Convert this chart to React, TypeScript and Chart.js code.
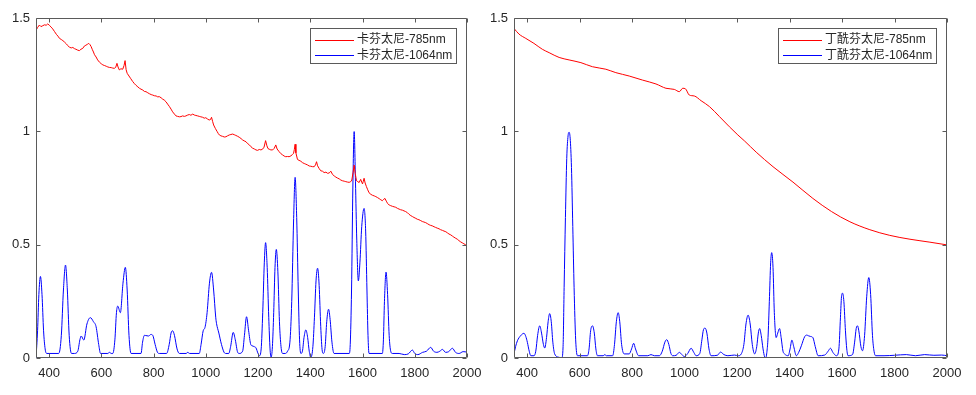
import React, { useEffect, useRef } from "react";
import { Chart, registerables } from "chart.js";

Chart.register(...registerables);

// ---------- tick values ----------
const xTicks = [400, 600, 800, 1000, 1200, 1400, 1600, 1800, 2000];
const yTicks = [0, 0.5, 1, 1.5];

// ---------- legend labels ----------
const leftLabels = ["卡芬太尼-785nm", "卡芬太尼-1064nm"];
const rightLabels = ["丁酰芬太尼-785nm", "丁酰芬太尼-1064nm"];

// ---------- left panel: 卡芬太尼 785nm ----------
const carf785X = [
  350, 356, 363, 369, 376, 383, 389, 395, 401, 408, 414, 421, 428, 434, 440, 447, 453, 459, 466, 472,
  478, 485, 491, 497, 503, 510, 516, 522, 529, 535, 541, 547, 552, 557, 561, 566, 570, 574, 580, 586,
  593, 600, 606, 613, 619, 625, 631, 638, 644, 650, 655, 660, 664, 669, 675, 682, 687, 691, 695, 699,
  706, 713, 720, 727, 733, 740, 746, 752, 759, 765, 771, 778, 784, 791, 797, 803, 810, 816, 822, 829,
  835, 841, 848, 854, 861, 867, 873, 880, 886, 892, 899, 905, 911, 918, 924, 931, 937, 943, 950, 956,
  962, 969, 975, 981, 988, 994, 1000, 1007, 1013, 1018, 1022, 1026, 1030, 1037, 1043, 1048, 1052, 1058, 1064, 1071,
  1077, 1083, 1090, 1096, 1103, 1109, 1115, 1122, 1128, 1135, 1141, 1147, 1154, 1160, 1167, 1173, 1179, 1186, 1192, 1198,
  1205, 1211, 1217, 1223, 1229, 1234, 1238, 1243, 1249, 1256, 1262, 1268, 1273, 1281, 1287, 1294, 1300, 1306, 1313, 1319,
  1326, 1332, 1336, 1339, 1342, 1345, 1351, 1357, 1364, 1370, 1377, 1383, 1389, 1396, 1402, 1409, 1415, 1420, 1424, 1428,
  1434, 1440, 1447, 1453, 1460, 1466, 1472, 1479, 1485, 1492, 1498, 1504, 1511, 1517, 1523, 1530, 1536, 1543, 1549, 1555,
  1559, 1564, 1568, 1572, 1577, 1582, 1587, 1593, 1597, 1600, 1603, 1606, 1610, 1615, 1620, 1625, 1632, 1638, 1645, 1651,
  1657, 1664, 1670, 1676, 1681, 1686, 1691, 1696, 1702, 1708, 1715, 1721, 1727, 1734, 1740, 1746, 1753, 1759, 1765, 1772,
  1778, 1785, 1791, 1797, 1804, 1810, 1816, 1823, 1829, 1835, 1842, 1848, 1855, 1861, 1867, 1874, 1880, 1886, 1893, 1899,
  1906, 1912, 1919, 1925, 1931, 1938, 1944, 1950, 1957, 1963, 1969, 1976, 1982, 1988, 1995, 2000,
];
const carf785Y = [
  1.445, 1.458, 1.469, 1.462, 1.466, 1.470, 1.468, 1.474, 1.468, 1.460, 1.452, 1.440, 1.428, 1.420, 1.410, 1.405, 1.400, 1.394, 1.386, 1.378,
  1.371, 1.368, 1.370, 1.365, 1.362, 1.358, 1.356, 1.362, 1.366, 1.376, 1.380, 1.384, 1.388, 1.382, 1.374, 1.360, 1.350, 1.338, 1.328, 1.315,
  1.305, 1.298, 1.293, 1.290, 1.287, 1.284, 1.282, 1.281, 1.279, 1.278, 1.282, 1.300, 1.284, 1.271, 1.276, 1.274, 1.290, 1.312, 1.272, 1.256,
  1.244, 1.232, 1.220, 1.210, 1.203, 1.196, 1.190, 1.186, 1.182, 1.176, 1.175, 1.170, 1.166, 1.162, 1.160, 1.157, 1.156, 1.152, 1.153, 1.148,
  1.142, 1.138, 1.130, 1.120, 1.109, 1.098, 1.086, 1.076, 1.068, 1.066, 1.064, 1.065, 1.068, 1.066, 1.068, 1.072, 1.074, 1.071, 1.076, 1.072,
  1.070, 1.068, 1.066, 1.064, 1.062, 1.058, 1.060, 1.054, 1.050, 1.052, 1.062, 1.044, 1.028, 1.012, 1.000, 0.990, 0.984, 0.980, 0.978, 0.975,
  0.976, 0.980, 0.984, 0.986, 0.988, 0.985, 0.982, 0.978, 0.974, 0.968, 0.962, 0.958, 0.954, 0.946, 0.940, 0.932, 0.926, 0.922, 0.918, 0.916,
  0.920, 0.918, 0.921, 0.930, 0.959, 0.936, 0.924, 0.921, 0.918, 0.918, 0.925, 0.940, 0.922, 0.910, 0.902, 0.896, 0.891, 0.888, 0.889, 0.888,
  0.892, 0.898, 0.903, 0.920, 0.943, 0.905, 0.876, 0.872, 0.868, 0.862, 0.858, 0.855, 0.852, 0.847, 0.846, 0.844, 0.844, 0.852, 0.866, 0.848,
  0.836, 0.826, 0.824, 0.818, 0.820, 0.815, 0.816, 0.824, 0.810, 0.803, 0.798, 0.794, 0.790, 0.785, 0.782, 0.780, 0.778, 0.776, 0.775, 0.778,
  0.785, 0.820, 0.851, 0.815, 0.782, 0.778, 0.774, 0.788, 0.776, 0.768, 0.780, 0.793, 0.772, 0.756, 0.742, 0.729, 0.722, 0.718, 0.715, 0.712,
  0.708, 0.703, 0.698, 0.694, 0.700, 0.704, 0.692, 0.682, 0.675, 0.672, 0.669, 0.667, 0.665, 0.660, 0.657, 0.654, 0.652, 0.649, 0.646, 0.641,
  0.634, 0.628, 0.624, 0.620, 0.616, 0.612, 0.610, 0.606, 0.602, 0.600, 0.597, 0.593, 0.588, 0.585, 0.583, 0.579, 0.576, 0.573, 0.570, 0.566,
  0.563, 0.560, 0.557, 0.552, 0.547, 0.543, 0.538, 0.533, 0.528, 0.524, 0.518, 0.512, 0.508, 0.504, 0.499, 0.496,
];

// ---------- left panel: 卡芬太尼 1064nm ----------
const carf1064X = [
  350, 356, 361, 367, 373, 379, 385, 391, 437, 447, 455, 463, 470, 477, 486, 497, 510, 518, 523, 533,
  545, 558, 570, 580, 590, 597, 625, 631, 638, 644, 652, 658, 663, 673, 683, 692, 699, 706, 714, 752,
  758, 765, 775, 781, 790, 797, 806, 815, 822, 850, 860, 867, 873, 880, 890, 899, 925, 931, 938, 975,
  982, 990, 997, 1005, 1014, 1022, 1030, 1038, 1041, 1050, 1060, 1070, 1077, 1088, 1095, 1105, 1113, 1122, 1128, 1141,
  1148, 1156, 1164, 1172, 1177, 1186, 1192, 1200, 1205, 1212, 1218, 1224, 1229, 1235, 1241, 1246, 1250, 1255, 1260, 1265,
  1270, 1276, 1282, 1288, 1294, 1305, 1313, 1322, 1329, 1336, 1342, 1348, 1354, 1359, 1364, 1370, 1376, 1383, 1390, 1396,
  1402, 1410, 1416, 1422, 1428, 1434, 1440, 1446, 1450, 1457, 1463, 1470, 1476, 1483, 1491, 1549, 1553, 1558, 1563, 1568,
  1573, 1578, 1584, 1590, 1597, 1606, 1612, 1617, 1621, 1625, 1676, 1680, 1684, 1690, 1696, 1702, 1708, 1714, 1740, 1760,
  1775, 1791, 1800, 1812, 1830, 1845, 1861, 1872, 1885, 1896, 1906, 1918, 1930, 1944, 1956, 1970, 1985, 2000,
];
const carf1064Y = [
  0.0, 0.12, 0.28, 0.36, 0.28, 0.12, 0.04, 0.02, 0.02, 0.10, 0.30, 0.41, 0.30, 0.10, 0.02, 0.02, 0.03, 0.08, 0.097, 0.079,
  0.15, 0.178, 0.16, 0.138, 0.06, 0.02, 0.02, 0.025, 0.02, 0.02, 0.08, 0.20, 0.229, 0.20, 0.33, 0.40, 0.30, 0.10, 0.02, 0.02,
  0.07, 0.10, 0.098, 0.097, 0.104, 0.10, 0.06, 0.025, 0.02, 0.02, 0.06, 0.11, 0.12, 0.10, 0.04, 0.02, 0.02, 0.025, 0.02, 0.02,
  0.06, 0.12, 0.135, 0.20, 0.33, 0.378, 0.30, 0.18, 0.153, 0.11, 0.06, 0.025, 0.02, 0.02, 0.05, 0.113, 0.08, 0.025, 0.02, 0.03,
  0.10, 0.182, 0.12, 0.06, 0.054, 0.05, 0.045, 0.02, 0.01, 0.04, 0.20, 0.42, 0.509, 0.40, 0.18, 0.04, 0.003, 0.05, 0.20, 0.40,
  0.479, 0.38, 0.16, 0.05, 0.02, 0.02, 0.03, 0.07, 0.25, 0.60, 0.797, 0.62, 0.30, 0.08, 0.02, 0.03, 0.09, 0.124, 0.09, 0.03,
  0.003, 0.05, 0.18, 0.34, 0.396, 0.32, 0.14, 0.03, 0.02, 0.05, 0.16, 0.215, 0.17, 0.07, 0.02, 0.02, 0.06, 0.30, 0.75, 0.999,
  0.78, 0.52, 0.34, 0.42, 0.58, 0.66, 0.56, 0.30, 0.10, 0.02, 0.02, 0.08, 0.25, 0.379, 0.28, 0.10, 0.03, 0.02, 0.02, 0.015,
  0.018, 0.035, 0.02, 0.015, 0.025, 0.03, 0.047, 0.03, 0.025, 0.03, 0.038, 0.025, 0.028, 0.043, 0.025, 0.02, 0.028, 0.026,
];

// ---------- right panel: 丁酰芬太尼 785nm ----------
const buty785X = [
  350, 369, 395, 426, 458, 484, 522, 560, 605, 649, 700, 738, 789, 840, 891, 929, 961, 980, 993, 1003,
  1018, 1037, 1063, 1095, 1133, 1171, 1203, 1229, 1273, 1337, 1413, 1489, 1560, 1630, 1706, 1782, 1859, 1935, 2000,
];
const buty785Y = [
  1.454, 1.429, 1.410, 1.388, 1.362, 1.347, 1.326, 1.315, 1.303, 1.285, 1.274, 1.259, 1.244, 1.226, 1.209, 1.190, 1.185, 1.175, 1.190, 1.188,
  1.160, 1.156, 1.135, 1.109, 1.065, 1.020, 0.984, 0.957, 0.908, 0.844, 0.776, 0.704, 0.646, 0.601, 0.566, 0.541, 0.524, 0.511, 0.499,
];

// ---------- right panel: 丁酰芬太尼 1064nm ----------
const buty1064X = [
  350, 356, 363, 375, 388, 395, 401, 408, 414, 426, 433, 440, 448, 455, 462, 467, 474, 480, 486, 492,
  498, 505, 522, 532, 537, 541, 546, 551, 556, 560, 564, 569, 574, 579, 585, 592, 630, 636, 642, 649,
  656, 662, 668, 690, 696, 702, 726, 733, 740, 747, 753, 760, 770, 789, 798, 806, 813, 825, 860, 872,
  885, 904, 915, 925, 932, 940, 948, 955, 968, 980, 990, 999, 1012, 1025, 1035, 1044, 1058, 1066, 1072, 1078,
  1085, 1093, 1101, 1125, 1137, 1150, 1165, 1190, 1205, 1216, 1226, 1234, 1242, 1250, 1258, 1267, 1275, 1281, 1286, 1292,
  1299, 1305, 1309, 1314, 1318, 1323, 1328, 1332, 1337, 1342, 1349, 1355, 1362, 1368, 1375, 1381, 1395, 1402, 1409, 1416,
  1426, 1435, 1445, 1458, 1466, 1472, 1480, 1489, 1498, 1509, 1534, 1547, 1556, 1565, 1579, 1588, 1594, 1598, 1602, 1607,
  1613, 1618, 1623, 1640, 1648, 1654, 1659, 1664, 1672, 1678, 1686, 1694, 1702, 1709, 1716, 1722, 1728, 1760, 1800, 1845,
  1880, 1915, 1950, 1980, 2000,
];
const buty1064Y = [
  0.018, 0.05, 0.076, 0.098, 0.109, 0.095, 0.069, 0.03, 0.01, 0.01, 0.03, 0.10, 0.142, 0.11, 0.06, 0.044, 0.09, 0.16, 0.196, 0.16,
  0.07, 0.018, 0.003, 0.0, 0.05, 0.31, 0.62, 0.88, 0.98, 0.996, 0.97, 0.84, 0.58, 0.31, 0.08, 0.01, 0.01, 0.04, 0.12, 0.142,
  0.11, 0.04, 0.01, 0.01, 0.015, 0.01, 0.01, 0.06, 0.16, 0.20, 0.16, 0.06, 0.018, 0.018, 0.04, 0.065, 0.04, 0.01, 0.01, 0.015,
  0.01, 0.01, 0.03, 0.07, 0.081, 0.06, 0.02, 0.01, 0.012, 0.025, 0.015, 0.006, 0.02, 0.043, 0.025, 0.01, 0.02, 0.08, 0.125, 0.132,
  0.11, 0.04, 0.01, 0.012, 0.026, 0.015, 0.01, 0.013, 0.01, 0.018, 0.06, 0.15, 0.189, 0.15, 0.06, 0.018, 0.05, 0.11, 0.13, 0.10,
  0.04, 0.005, 0.0, 0.03, 0.09, 0.25, 0.42, 0.465, 0.40, 0.20, 0.09, 0.11, 0.13, 0.09, 0.03, 0.018, 0.01, 0.04, 0.079, 0.05,
  0.01, 0.025, 0.054, 0.095, 0.101, 0.098, 0.095, 0.09, 0.05, 0.01, 0.013, 0.03, 0.043, 0.025, 0.01, 0.04, 0.18, 0.27, 0.286, 0.25,
  0.12, 0.04, 0.01, 0.015, 0.07, 0.13, 0.142, 0.12, 0.05, 0.032, 0.10, 0.27, 0.355, 0.28, 0.10, 0.03, 0.01, 0.01, 0.012, 0.015,
  0.01, 0.015, 0.012, 0.013, 0.01,
];

// ---------- styling ----------
const FONT = '"Liberation Sans", Arial, "Noto Sans CJK SC", sans-serif';
const TEXT_COLOR = "#262626";
const FRAME_COLOR = "#5a5a5a";
const RED = "#ff0000";
const BLUE = "#0000ff";

function pts(xs: number[], ys: number[]) {
  return xs.map((x, i) => ({ x, y: ys[i] }));
}

const framePlugin = {
  id: "matlabFrame",
  afterDatasetsDraw(chart: any) {
    const { ctx, chartArea: a, scales } = chart;
    ctx.save();
    ctx.strokeStyle = FRAME_COLOR;
    ctx.lineWidth = 1;
    const L = Math.round(a.left) + 0.5;
    const R = Math.round(a.right) - 0.5;
    const T = Math.round(a.top) + 0.5;
    const B = Math.round(a.bottom) - 0.5;
    ctx.beginPath();
    ctx.rect(L, T, R - L, B - T);
    const tl = 4;
    xTicks.forEach((v) => {
      const px = Math.round(scales.x.getPixelForValue(v)) + 0.5;
      ctx.moveTo(px, B);
      ctx.lineTo(px, B - tl);
      ctx.moveTo(px, T);
      ctx.lineTo(px, T + tl);
    });
    yTicks.forEach((v) => {
      const py = Math.round(scales.y.getPixelForValue(v)) + 0.5;
      ctx.moveTo(L, py);
      ctx.lineTo(L + tl, py);
      ctx.moveTo(R, py);
      ctx.lineTo(R - tl, py);
    });
    ctx.stroke();
    ctx.restore();
  },
  afterDraw(chart: any) {
    const { ctx, chartArea: a } = chart;
    const ds = chart.data.datasets;
    ctx.save();
    ctx.font = `12px ${FONT}`;
    let maxW = 0;
    ds.forEach((d: any) => {
      maxW = Math.max(maxW, ctx.measureText(d.label).width);
    });
    const boxW = Math.round(47 + maxW + 5);
    const boxH = 36;
    const right = Math.round(a.right) - 10;
    const top = Math.round(a.top) + 10;
    const left = right - boxW;
    ctx.fillStyle = "#ffffff";
    ctx.fillRect(left, top, boxW, boxH);
    ctx.strokeStyle = FRAME_COLOR;
    ctx.lineWidth = 1;
    ctx.strokeRect(left + 0.5, top + 0.5, boxW - 1, boxH - 1);
    ds.forEach((d: any, i: number) => {
      const cy = top + 11.5 + i * 15.5;
      ctx.strokeStyle = d.borderColor;
      ctx.beginPath();
      ctx.moveTo(left + 5, Math.round(cy) + 0.5);
      ctx.lineTo(left + 44, Math.round(cy) + 0.5);
      ctx.stroke();
      ctx.fillStyle = TEXT_COLOR;
      ctx.textBaseline = "middle";
      ctx.textAlign = "left";
      ctx.fillText(d.label, left + 47, cy + 0.5);
    });
    ctx.restore();
  },
};

function makeConfig(
  labels: string[],
  redX: number[],
  redY: number[],
  redSmooth: boolean,
  blueX: number[],
  blueY: number[],
  yWidth: number,
  padRight: number
): any {
  return {
    type: "line",
    data: {
      datasets: [
        {
          label: labels[0],
          data: pts(redX, redY),
          borderColor: RED,
          borderWidth: 1,
          pointRadius: 0,
          fill: false,
          tension: redSmooth ? 0.4 : 0,
          cubicInterpolationMode: redSmooth ? "monotone" : "default",
        },
        {
          label: labels[1],
          data: pts(blueX, blueY),
          borderColor: BLUE,
          borderWidth: 1,
          pointRadius: 0,
          fill: false,
          tension: 0.4,
          cubicInterpolationMode: "monotone",
        },
      ],
    },
    options: {
      animation: false,
      responsive: false,
      maintainAspectRatio: false,
      events: [],
      layout: { padding: { top: 18, right: padRight, left: 0, bottom: 0 } },
      plugins: { legend: { display: false }, tooltip: { enabled: false } },
      scales: {
        x: {
          type: "linear",
          min: 350,
          max: 2000,
          afterBuildTicks: (s: any) => {
            s.ticks = xTicks.map((v) => ({ value: v }));
          },
          afterFit: (s: any) => {
            s.height = 37;
          },
          grid: { display: false, drawTicks: false },
          border: { display: false },
          ticks: {
            font: { family: FONT, size: 13 },
            color: TEXT_COLOR,
            padding: 8,
            maxRotation: 0,
            autoSkip: false,
            callback: (v: any) => String(v),
          },
        },
        y: {
          type: "linear",
          min: 0,
          max: 1.5,
          afterBuildTicks: (s: any) => {
            s.ticks = yTicks.map((v) => ({ value: v }));
          },
          afterFit: (s: any) => {
            s.width = yWidth;
          },
          grid: { display: false, drawTicks: false },
          border: { display: false },
          ticks: {
            font: { family: FONT, size: 13 },
            color: TEXT_COLOR,
            padding: 6,
            autoSkip: false,
            callback: (v: any) => String(v),
          },
        },
      },
    },
    plugins: [framePlugin],
  };
}

function Panel(props: { left: number; width: number; config: any }) {
  const ref = useRef<HTMLCanvasElement | null>(null);
  useEffect(() => {
    if (!ref.current) return;
    const chart = new Chart(ref.current, props.config);
    return () => chart.destroy();
  }, []);
  return (
    <canvas
      ref={ref}
      width={props.width}
      height={395}
      style={{ position: "absolute", left: props.left, top: 0, width: props.width, height: 395 }}
    />
  );
}

export default function App() {
  const leftConfig = makeConfig(leftLabels, carf785X, carf785Y, false, carf1064X, carf1064Y, 36, 23);
  const rightConfig = makeConfig(rightLabels, buty785X, buty785Y, true, buty1064X, buty1064Y, 24, 29);
  return (
    <div style={{ position: "fixed", left: 0, top: 0, width: 976, height: 395, background: "#ffffff" }}>
      <Panel left={0} width={490} config={leftConfig} />
      <Panel left={490} width={486} config={rightConfig} />
    </div>
  );
}
